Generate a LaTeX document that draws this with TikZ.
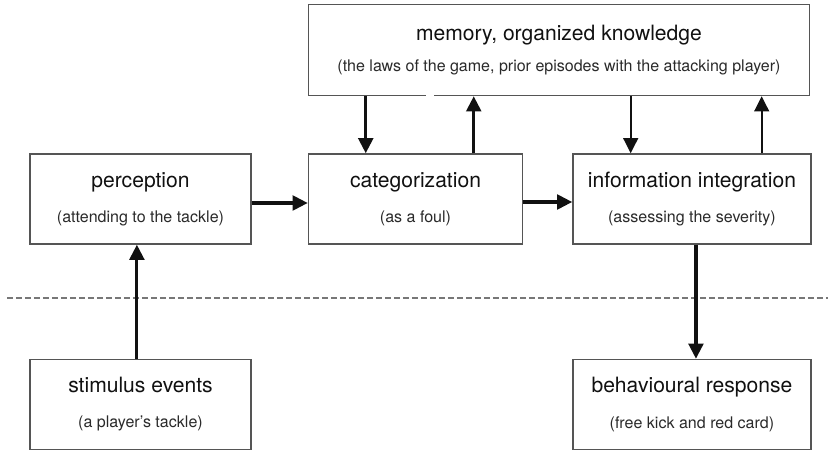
\documentclass[tikz,border=0pt]{standalone}
\usepackage{fontspec}
\setmainfont{TeX Gyre Heros}
\usetikzlibrary{arrows.meta,positioning,calc}
\definecolor{Ink}{HTML}{111111}
\definecolor{Frame}{HTML}{555555}
\definecolor{Soft}{HTML}{2A2A2A}
\newcommand{\ttl}[1]{{\fontsize{15pt}{18pt}\selectfont #1}}
\newcommand{\subtxt}[1]{{\color{Soft}#1}}
\tikzset{
  stagebox/.style={draw=Frame,line width=1.05pt,fill=white,minimum height=2.25cm,align=center,text=Ink,font=\fontsize{11.4pt}{25pt}\selectfont,inner sep=0pt},
  flow/.style={-{Triangle[length=0.38cm,width=0.37cm]},line width=2.2pt,draw=Ink},
  thinflow/.style={flow,line width=1.5pt},
  divider/.style={draw=Frame!80,line width=1pt,dash pattern=on 0.15cm off 0.075cm}
}

\begin{document}
\begin{tikzpicture}[node distance=1.4cm]
  \useasboundingbox (0,0) rectangle (20.7,-11.3);
  \node[stagebox,minimum width=5.525cm] (perc) at (3.5125,-4.975) {\ttl{perception}\\\subtxt{(attending to the tackle)}};
  \node[stagebox,minimum width=5.35cm,right=1.4cm of perc] (cat) {\ttl{categorization}\\\subtxt{(as a foul)}};
  \node[stagebox,minimum width=5.95cm,right=1.225cm of cat] (info) {\ttl{information integration}\\\subtxt{(assessing the severity)}};
  \node[stagebox,minimum width=12.525cm,minimum height=2.275cm,above=1.425cm of cat.north west,anchor=south west] (mem) {\ttl{memory, organized knowledge}\\[-3.5pt]\subtxt{(the laws of the game, prior episodes with the attacking player)}};
  \node[stagebox,minimum width=5.525cm,below=2.85cm of perc] (stim) {\ttl{stimulus events}\\\subtxt{(a player's tackle)}};
  \node[stagebox,minimum width=5.95cm,below=2.85cm of info] (resp) {\ttl{behavioural response}\\\subtxt{(free kick and red card)}};
  % small break in the memory frame
  \fill[white] ([xshift=2.95cm,yshift=-0.05cm]mem.south west) rectangle ([xshift=3.15cm,yshift=0.05cm]mem.south west);
  \draw[divider] (0.175,-7.45) -- (20.7,-7.45);
  \draw[flow] ([yshift=-0.1cm]perc.east) -- ([yshift=-0.1cm]cat.west);
  \draw[flow] ([yshift=-0.075cm]cat.east) -- ([yshift=-0.075cm]info.west);
  \draw[flow] ([xshift=1.45cm]cat.north west |- mem.south) -- ([xshift=1.45cm]cat.north west);
  \draw[flow] ([xshift=4.15cm]cat.north west) -- ([xshift=4.15cm]cat.north west |- mem.south);
  \draw[thinflow] ([xshift=-4.525cm]info.north east |- mem.south) -- ([xshift=-4.525cm]info.north east);
  \draw[thinflow] ([xshift=-1.25cm]info.north east) -- ([xshift=-1.25cm]info.north east |- mem.south);
  \draw[flow] ([xshift=0.1cm]info.south) -- ([xshift=0.1cm]resp.north);
  \draw[flow] ([xshift=-0.09cm]stim.north) -- ([xshift=-0.09cm]perc.south);
\end{tikzpicture}
\end{document}
